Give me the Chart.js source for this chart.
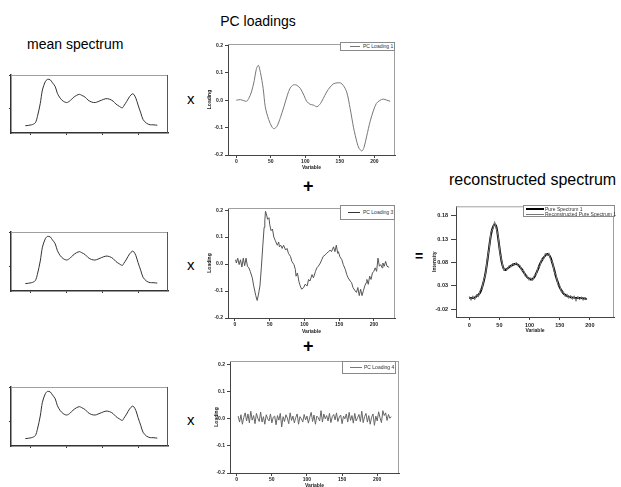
<!DOCTYPE html>
<html><head><meta charset="utf-8">
<script src="https://cdn.jsdelivr.net/npm/chart.js@4"></script>
<style>
html,body{margin:0;padding:0;background:#fff;overflow:hidden;width:621px;height:487px;}
body{position:relative;font-family:"Liberation Sans",Arial,sans-serif;}
canvas{position:absolute;}
.t{position:absolute;white-space:nowrap;color:#000;line-height:1;}
.lg{position:absolute;border:1px solid #8a8a8a;box-sizing:border-box;background:#fff;}
.ln{position:absolute;height:0;}
.tx{position:absolute;font-size:5px;line-height:6px;color:#333;white-space:nowrap;}
</style></head><body>
<div class="t" style="left:258px;top:14px;font-size:14px;transform:translateX(-50%);">PC loadings</div>
<div class="t" style="left:27px;top:37px;font-size:14px;">mean spectrum</div>
<div class="t" style="left:449px;top:172px;font-size:16px;">reconstructed spectrum</div>
<div class="t" style="left:187px;top:91px;font-size:15px;">x</div>
<div class="t" style="left:187px;top:257px;font-size:15px;">x</div>
<div class="t" style="left:187px;top:412px;font-size:15px;">x</div>
<div class="t" style="left:303px;top:177px;font-size:18px;font-weight:bold;">+</div>
<div class="t" style="left:303px;top:337px;font-size:18px;font-weight:bold;">+</div>
<div class="t" style="left:415px;top:249px;font-size:14px;font-weight:bold;">=</div>

<canvas id="m1"></canvas><canvas id="m2"></canvas><canvas id="m3"></canvas>
<canvas id="p1"></canvas><canvas id="p2"></canvas><canvas id="p4"></canvas>
<canvas id="rc"></canvas>

<div class="lg" style="left:340px;top:42px;width:55px;height:9px;">
  <span class="ln" style="left:9px;top:3px;width:10px;border-top:1px solid #777;"></span>
  <span class="tx" style="left:22px;top:0px;">PC Loading 1</span>
</div>
<div class="lg" style="left:340px;top:205px;width:55px;height:15px;">
  <span class="ln" style="left:7px;top:6px;width:12px;border-top:1px solid #333;"></span>
  <span class="tx" style="left:22px;top:3px;">PC Loading 3</span>
</div>
<div class="lg" style="left:342px;top:361px;width:54px;height:13px;">
  <span class="ln" style="left:7px;top:5px;width:12px;border-top:1px solid #777;"></span>
  <span class="tx" style="left:21px;top:2px;">PC Loading 4</span>
</div>
<div class="lg" style="left:523px;top:205px;width:92px;height:12px;">
  <span class="ln" style="left:2px;top:2px;width:18px;border-top:2px solid #000;"></span>
  <span class="tx" style="left:21px;top:0px;">Pure Spectrum 1</span>
  <span class="ln" style="left:2px;top:8px;width:18px;border-top:1px solid #777;"></span>
  <span class="tx" style="left:21px;top:5px;">Reconstructed Pure Spectrum 1</span>
</div>

<script>
// ---------- data ----------
const meanX = [20,29,34,37,41,44,48,51,55,58,62,65,69,73,78,83,87,92,96,99,104,108,113,118,122,127,133,138,143,147,152,156,158,162,166,170,172,175,178,182,185,190,195,199,205];
const meanY = [0.15,0.17,0.21,0.34,0.61,0.89,1.06,1.11,1.10,1.04,0.96,0.82,0.72,0.66,0.63,0.67,0.73,0.78,0.80,0.78,0.74,0.68,0.64,0.63,0.65,0.68,0.71,0.70,0.66,0.60,0.55,0.52,0.56,0.65,0.75,0.81,0.80,0.72,0.58,0.41,0.28,0.20,0.17,0.17,0.16];
const meanXTicks = [28,78,128,178];
const meanYTicks = [0.5,1.2];

const pc1X = [0,6,11,15,18,22,26,29,32,35,39,42,47,52,55,59,64,69,74,78,83,88,93,98,102,107,112,117,122,126,131,136,141,146,151,155,160,165,170,175,178,182,185,189,194,199,203,208,213,218,223];
const pc1Y = [0.000,0.002,-0.002,-0.004,0.006,0.030,0.071,0.113,0.127,0.101,0.042,-0.024,-0.071,-0.099,-0.104,-0.095,-0.063,-0.024,0.018,0.044,0.056,0.054,0.042,0.018,-0.004,-0.015,-0.018,-0.024,-0.012,0.006,0.030,0.048,0.060,0.063,0.063,0.054,0.030,-0.030,-0.101,-0.155,-0.176,-0.185,-0.173,-0.131,-0.077,-0.036,-0.012,-0.001,0.004,0.000,-0.004];

const pc2X = [1,2,4,6,8,10,12,14,16,18,
  20,22,25,27,30,32,34,36,38,40,
  42,43,44,46,47,49,50,52,54,56,
  58,61,63,64,66,68,70,73,75,77,
  80,82,85,87,88,90,92,94,96,99,
  101,104,106,108,111,113,116,118,120,123,
  125,127,130,132,135,137,139,142,144,146,
  148,149,151,154,156,159,161,163,166,168,
  170,173,175,177,179,181,183,185,187,189,
  190,192,194,196,198,200,202,204,206,208,
  210,212,213,215,217,219,222];
const pc2Y = [0.016,0.004,0.022,-0.002,0.016,-0.011,0.022,-0.006,0.022,-0.008,
  -0.014,-0.027,-0.051,-0.081,-0.117,-0.135,-0.111,-0.081,-0.014,0.064,
  0.136,0.160,0.196,0.178,0.166,0.172,0.148,0.124,0.130,0.100,
  0.088,0.070,0.082,0.064,0.070,0.058,0.070,0.052,0.058,0.040,
  0.028,0.010,-0.002,-0.020,-0.045,-0.033,-0.063,-0.081,-0.093,-0.087,
  -0.075,-0.081,-0.057,-0.063,-0.039,-0.051,-0.027,-0.014,-0.008,0.004,
  0.016,0.028,0.034,0.040,0.046,0.052,0.046,0.064,0.046,0.070,
  0.040,0.046,0.028,0.016,-0.002,-0.020,-0.039,-0.051,-0.063,-0.069,
  -0.087,-0.099,-0.105,-0.087,-0.117,-0.093,-0.117,-0.099,-0.081,-0.069,
  -0.057,-0.075,-0.045,-0.057,-0.033,-0.027,-0.014,-0.027,0.022,-0.008,
  -0.002,-0.014,0.004,-0.008,0.010,-0.008,-0.012];

const pc4Start = 2, pc4Step = 2;
const pc4Y = [0.010,-0.012,0.015,-0.020,0.005,0.022,-0.008,0.018,-0.015,0.028,
  -0.005,0.012,-0.018,0.020,0.002,-0.010,0.025,-0.012,0.008,-0.020,
  0.015,0.000,-0.008,0.018,-0.015,0.006,0.010,-0.022,0.012,-0.005,
  0.020,-0.030,0.008,-0.010,0.015,0.003,-0.018,0.022,-0.006,0.010,
  -0.015,0.005,0.018,-0.020,0.008,0.000,-0.012,0.016,-0.004,0.010,
  -0.016,0.006,0.024,-0.010,0.014,-0.020,0.010,0.004,-0.008,0.030,
  -0.012,0.018,0.000,0.012,-0.008,0.020,-0.014,0.008,0.016,-0.004,
  0.022,-0.010,0.006,0.014,-0.018,0.010,0.000,0.018,-0.012,0.024,
  -0.006,0.012,-0.016,0.020,-0.008,0.004,0.016,-0.010,0.028,-0.014,
  0.008,0.020,-0.012,0.012,-0.020,0.006,0.018,-0.024,0.010,-0.008,
  0.026,0.004,-0.014,0.030,0.012,0.022,-0.006,0.016,0.002,0.008];

const loadXTicks = [0,50,100,150,200];
const loadYTicks = [-0.2,-0.1,0,0.1,0.2];

const recStart = 0, recStep = 3;
const pureY = [0.004,0.004,0.004,0.005,0.008,0.011,0.016,0.026,0.040,0.058,
  0.084,0.113,0.140,0.155,0.162,0.156,0.132,0.103,0.080,0.067,
  0.064,0.067,0.070,0.073,0.075,0.077,0.077,0.075,0.071,0.066,
  0.060,0.054,0.049,0.046,0.044,0.045,0.049,0.057,0.066,0.076,
  0.084,0.090,0.095,0.098,0.097,0.090,0.078,0.064,0.049,0.037,
  0.027,0.020,0.014,0.011,0.009,0.007,0.006,0.005,0.005,0.004,
  0.004,0.004,0.004,0.003,0.003,0.002];
const reconY = [0.008,-0.001,0.009,0.000,0.012,0.006,0.020,0.024,0.043,0.055,
  0.088,0.110,0.145,0.152,0.168,0.153,0.136,0.100,0.083,0.063,
  0.068,0.064,0.074,0.070,0.079,0.074,0.081,0.072,0.075,0.062,
  0.064,0.050,0.052,0.042,0.048,0.041,0.053,0.054,0.070,0.072,
  0.088,0.086,0.100,0.094,0.101,0.086,0.081,0.060,0.053,0.033,
  0.031,0.016,0.018,0.007,0.013,0.003,0.010,0.001,0.009,-0.003,
  0.008,0.000,0.007,-0.001,0.006,0.001];
const recXTicks = [0,50,100,150,200];
const recYTicks = [-0.02,0.03,0.08,0.13,0.18];

// ---------- drawing ----------
const FONT = "'Liberation Sans', Arial, sans-serif";
const framePlugin = {
  id: 'frame',
  afterDatasetsDraw(chart, args, opts) {
    const {ctx, chartArea: a} = chart;
    ctx.save();
    ctx.lineWidth = 1;
    ctx.strokeStyle = opts.top || '#9a9a9a';
    ctx.beginPath(); ctx.moveTo(a.left, a.top + 0.5); ctx.lineTo(a.right, a.top + 0.5); ctx.stroke();
    ctx.strokeStyle = opts.right || '#9a9a9a';
    ctx.beginPath(); ctx.moveTo(a.right - 0.5, a.top); ctx.lineTo(a.right - 0.5, a.bottom); ctx.stroke();
    ctx.restore();
  }
};

function pairs(xs, ys) { return ys.map((y, i) => ({x: xs[i], y})); }
function stepPairs(start, step, ys) { return ys.map((y, i) => ({x: start + i * step, y})); }

function mk(id, o) {
  const pad = o.pad, a = o.area;
  const c = document.getElementById(id);
  const left = a.l - pad.L, top = a.t - pad.T;
  const w = a.r + pad.R - left, h = a.b + pad.B - top;
  Object.assign(c.style, {left: left + 'px', top: top + 'px', width: w + 'px', height: h + 'px'});
  c.width = w; c.height = h;
  const tickFont = {family: FONT, size: o.tickSize || 5, weight: 'bold'};
  const axis = (ax, isX) => ({
    type: 'linear', min: ax.min, max: ax.max,
    afterBuildTicks: s => { s.ticks = ax.ticks.map(v => ({value: v})); },
    afterFit: s => { if (isX) s.height = pad.B; else s.width = pad.L; },
    grid: {display: true, drawOnChartArea: false, drawTicks: true, tickLength: ax.tickLen, color: o.axisColor, lineWidth: 1},
    border: {display: true, color: o.axisColor, width: o.axisWidth || 1},
    ticks: {display: !!ax.fmt, font: tickFont, color: '#222', padding: ax.pad || 1, autoSkip: false, maxRotation: 0, minRotation: 0,
      callback: ax.fmt || (() => '')},
    title: ax.title ? {display: true, text: ax.title, font: {family: FONT, size: 5, weight: 'bold'}, color: '#222', padding: 0} : {display: false}
  });
  return new Chart(c, {
    type: 'line',
    data: {datasets: o.datasets},
    options: {
      responsive: false, animation: false, devicePixelRatio: 1,
      layout: {padding: {top: pad.T, right: pad.R, left: 0, bottom: 0}},
      plugins: {legend: {display: false}, tooltip: {enabled: false}, frame: o.frame || {}},
      elements: {point: {radius: 0}, line: {tension: 0}},
      scales: {x: axis(o.x, true), y: axis(o.y, false)}
    },
    plugins: [framePlugin]
  });
}

const f1 = v => v.toFixed(1);
const f2 = v => v.toFixed(2);

// mean spectra
[['m1', 75, 133], ['m2', 232, 291], ['m3', 387, 446]].forEach(([id, t, b]) => {
  mk(id, {
    area: {l: 11, r: 168, t, b}, pad: {L: 11, B: 5, T: 2, R: 3},
    axisColor: '#333', axisWidth: 1.5, frame: {top: '#a0a0a0', right: '#555'},
    x: {min: 0, max: 220, ticks: meanXTicks, tickLen: 2},
    y: {min: 0, max: 1.2, ticks: meanYTicks, tickLen: 2},
    datasets: [{data: pairs(meanX, meanY), borderColor: '#333', borderWidth: 1, tension: 0.3, fill: false}]
  });
});

// PC loadings
mk('p1', {
  area: {l: 228, r: 395, t: 41, b: 155}, pad: {L: 21, B: 16, T: 2, R: 4},
  axisColor: '#444', frame: {top: '#a0a0a0', right: '#a0a0a0'},
  x: {min: -12, max: 230, ticks: loadXTicks, tickLen: 3, pad: 1, fmt: v => String(v), title: 'Variable'},
  y: {min: -0.2, max: 0.205, ticks: loadYTicks, tickLen: 3, pad: 2, fmt: f1, title: 'Loading'},
  datasets: [{data: pairs(pc1X, pc1Y), borderColor: '#777', borderWidth: 1, tension: 0.3}]
});
mk('p2', {
  area: {l: 228, r: 395, t: 205, b: 318}, pad: {L: 21, B: 17, T: 2, R: 4},
  axisColor: '#444', frame: {top: '#a0a0a0', right: '#a0a0a0'},
  x: {min: -10, max: 230.5, ticks: loadXTicks, tickLen: 3, pad: 1, fmt: v => String(v), title: 'Variable'},
  y: {min: -0.2, max: 0.208, ticks: loadYTicks, tickLen: 3, pad: 2, fmt: f1, title: 'Loading'},
  datasets: [{data: pairs(pc2X, pc2Y), borderColor: '#555', borderWidth: 1}]
});
mk('p4', {
  area: {l: 230, r: 399, t: 358, b: 473}, pad: {L: 16, B: 16, T: 2, R: 4},
  axisColor: '#444', frame: {top: '#a0a0a0', right: '#a0a0a0'},
  x: {min: -9.6, max: 231, ticks: loadXTicks, tickLen: 3, pad: 1, fmt: v => String(v), title: 'Variable'},
  y: {min: -0.2, max: 0.2134, ticks: loadYTicks, tickLen: 3, pad: 2, fmt: f1, title: 'Loading'},
  datasets: [{data: stepPairs(pc4Start, pc4Step, pc4Y), borderColor: '#666', borderWidth: 1}]
});

// reconstructed
mk('rc', {
  area: {l: 456, r: 614, t: 202, b: 317}, pad: {L: 24, B: 17, T: 2, R: 4},
  axisColor: '#444', tickSize: 5.5, frame: {top: '#a0a0a0', right: '#a0a0a0'},
  x: {min: -22, max: 240, ticks: recXTicks, tickLen: 3, pad: 2, fmt: v => String(v), title: 'Variable'},
  y: {min: -0.0365, max: 0.2006, ticks: recYTicks, tickLen: 5, pad: 3, fmt: f2, title: 'Intensity'},
  datasets: [
    {data: stepPairs(recStart, recStep, pureY), borderColor: '#000', borderWidth: 2, tension: 0.3, order: 1},
    {data: stepPairs(recStart, recStep, reconY), borderColor: '#808080', borderWidth: 1, order: 0}
  ]
});
</script>
</body></html>
